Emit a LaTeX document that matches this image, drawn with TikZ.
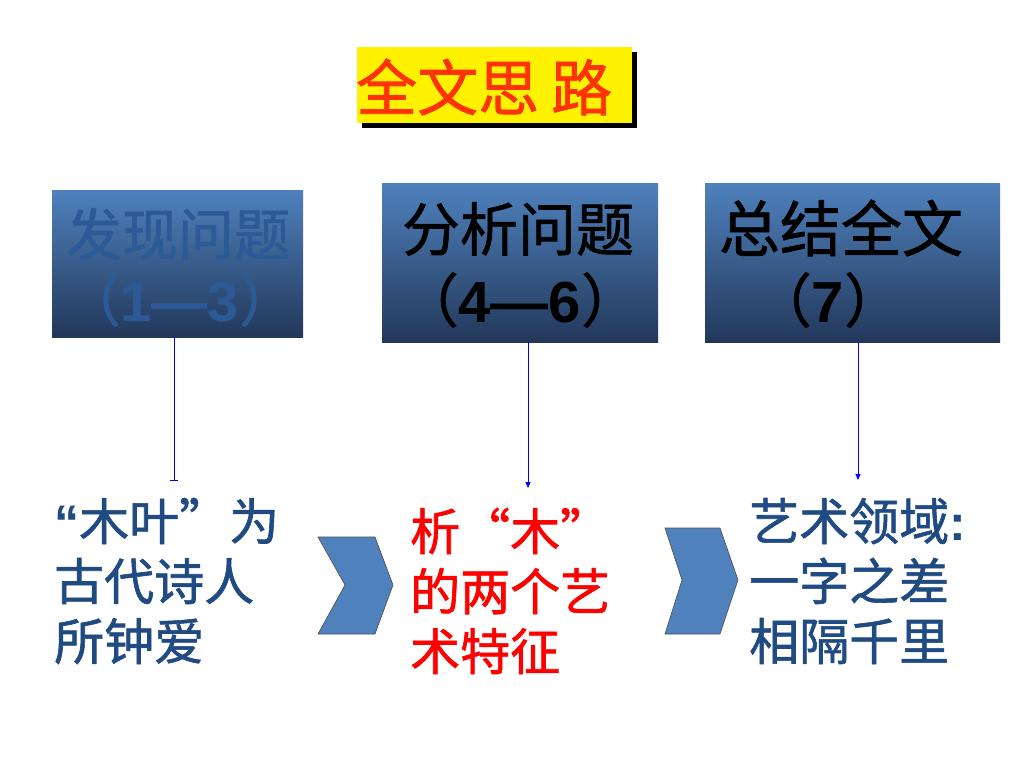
\documentclass[tikz,border=0pt]{standalone}
\usepackage{fontspec}
\setmainfont{Liberation Sans}
\newfontfamily\cjk{Noto Sans CJK SC}[FakeBold=1.2]
\newfontfamily\arialb{Liberation Sans}[BoldFont={* Bold}]
\usetikzlibrary{arrows.meta}
\definecolor{boxtop}{HTML}{4F81BD}
\definecolor{boxbot}{HTML}{22385A}
\definecolor{txtblue}{HTML}{1F4A82}
\definecolor{faintblue}{HTML}{2C5A96}
\definecolor{titlered}{HTML}{FF3300}
\definecolor{chev}{HTML}{4F81BD}
\tikzset{
  gbox/.style={draw=none, top color=boxtop, bottom color=boxbot},
  boxtxt/.style={inner sep=0pt, font=\cjk\fontsize{58}{64}\selectfont},
  bodytxt/.style={inner sep=0pt, align=left, anchor=west, font=\cjk\fontsize{50}{60}\selectfont},
  link/.style={draw=blue, line width=1pt},
  chevron/.style={draw=black!70, line width=0.6pt, fill=chev},
}
\begin{document}
\begin{tikzpicture}[x=1pt,y=-1pt]
\useasboundingbox (0,0) rectangle (1024,768);
\fill[white] (0,0) rectangle (1024,768);
% title
\fill[black] (362,52) rectangle (637,128);
\fill[yellow] (357,47) rectangle (632,123);
\node[inner sep=0pt, anchor=west, text=titlered, font=\cjk\fontsize{61}{64}\selectfont] (title) at (356,87) {全文思\hspace{12pt}路};
% boxes
\path[gbox] (52,190) rectangle (303,337);
\coordinate (b1) at (174,337);
\path[gbox] (382,183) rectangle (658,342);
\coordinate (b2) at (528,342);
\path[gbox] (705,183) rectangle (1000,342);
\coordinate (b3) at (858,342);
% box texts
\node[boxtxt, text=faintblue, font=\cjk\fontsize{56}{60}\selectfont] (t1a) at (178,234) {发现问题};
\node[boxtxt, text=faintblue, font=\cjk\fontsize{56}{60}\selectfont] (t1b) at (180,300) {（{\arialb\bfseries 1—3}）};
\node[boxtxt, text=black] (t2a) at (518,229) {分析问题};
\node[boxtxt, text=black] (t2b) at (520,300) {（{\arialb\bfseries 4—6}）};
\node[boxtxt, text=black, font=\cjk\fontsize{61}{64}\selectfont] (t3a) at (841,228) {总结全文};
\node[boxtxt, text=black] (t3b) at (828,300) {（{\arialb\bfseries 7}）};
% targets
\coordinate (e1) at (174,481);
\coordinate (e2) at (528,488);
\coordinate (e3) at (858,480);
\draw[link, -{Bar[width=8pt,line width=1pt]}] (b1) -- (e1);
\draw[link, -{Triangle[width=5pt,length=6pt]}] (b2) -- (e2);
\draw[link, -{Triangle[width=5pt,length=6pt]}] (b3) -- (e3);
% bottom texts
\node[bodytxt, text=txtblue] (c1) at (54,581) {{\arialb\bfseries “}木叶”为\\古代诗人\\所钟爱};
\node[bodytxt, text=red] (c2) at (410,591) {析“木”\\的两个艺\\术特征};
\node[bodytxt, text=txtblue] (c3) at (749,581) {艺术领域{\arialb\bfseries :}\\一字之差\\相隔千里};
% chevrons
\path[chevron] (318,537) -- (375,537) -- (393,585) -- (375,634) -- (318,634) -- (345,585) -- cycle;
\node[inner sep=0pt] (ch1) at (356,585) {};
\path[chevron] (665,528) -- (720,528) -- (738,580) -- (720,634) -- (665,634) -- (682,580) -- cycle;
\node[inner sep=0pt] (ch2) at (701,580) {};
\end{tikzpicture}
\end{document}
